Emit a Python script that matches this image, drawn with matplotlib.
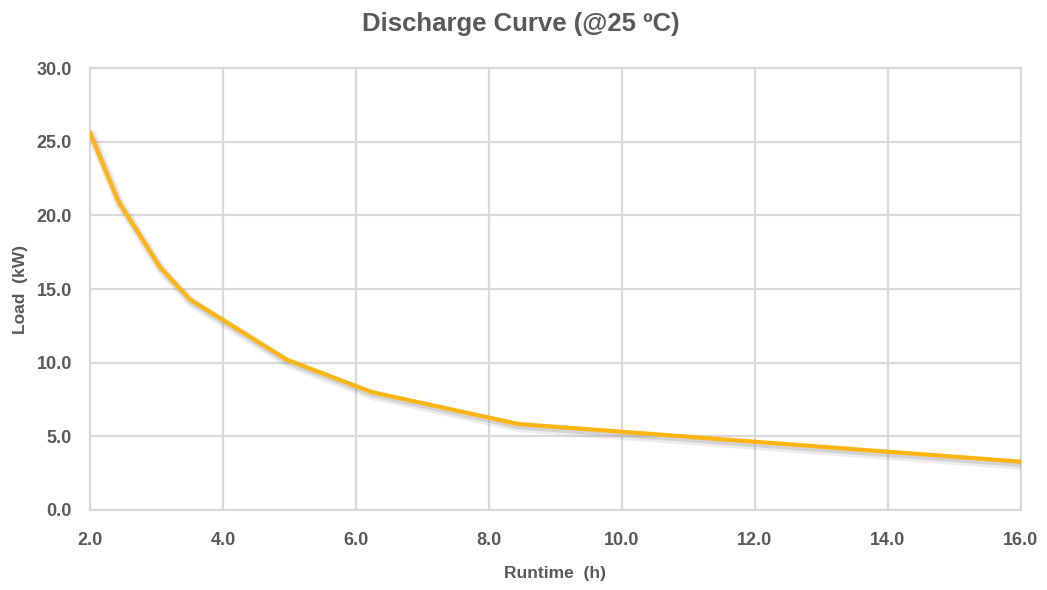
import numpy as np
import matplotlib
matplotlib.use('Agg')
import matplotlib.pyplot as plt
import matplotlib.patheffects as pe

plt.rcParams['font.family'] = ['Liberation Sans', 'DejaVu Sans']

runtime = [2.0, 2.42, 3.05, 3.5, 4.96, 6.24, 8.44, 16.0]
load = [25.6, 21.0, 16.5, 14.3, 10.2, 8.0, 5.84, 3.28]
xticks = [2, 4, 6, 8, 10, 12, 14, 16]
yticks = [0, 5, 10, 15, 20, 25, 30]

grey = '#595959'
gridc = '#D9D9D9'

fig = plt.figure(figsize=(10.47, 5.9), dpi=100)
ax = fig.add_axes([0.086, 0.1356, 0.889, 0.749])

# soft drop shadow under the line
shadow = [pe.SimpleLineShadow(offset=(1.5, -2.5), shadow_color='#999999', alpha=0.18, linewidth=7),
          pe.SimpleLineShadow(offset=(1.2, -2.0), shadow_color='#888888', alpha=0.25, linewidth=4),
          pe.Normal()]
ax.plot(runtime, load, color='#FFB511', lw=3.0, solid_joinstyle='round', zorder=3,
        path_effects=shadow)

ax.set_xlim(2, 16)
ax.set_ylim(0, 30)
ax.set_xticks(xticks)
ax.set_yticks(yticks)
ax.set_xticklabels(['%.1f' % v for v in xticks])
ax.set_yticklabels(['%.1f' % v for v in yticks])
ax.grid(True, color=gridc, lw=1.6)
ax.set_axisbelow(True)
for s in ax.spines.values():
    s.set_color(gridc)
    s.set_linewidth(1.6)
ax.tick_params(length=0, labelsize=13, labelcolor=grey)
ax.tick_params(axis='x', pad=16)
ax.tick_params(axis='y', pad=13)
for lab in ax.get_xticklabels() + ax.get_yticklabels():
    lab.set_fontweight('bold')

ax.set_xlabel('Runtime  (h)', fontsize=12.5, fontweight='bold', color=grey, labelpad=12)
ax.set_ylabel('Load  (kW)', fontsize=12.5, fontweight='bold', color=grey, labelpad=6)
fig.text(0.497, 0.96, 'Discharge Curve (@25 ºC)', ha='center', va='center',
         fontsize=18.5, fontweight='bold', color=grey)

fig.savefig('out.png', dpi=100)
